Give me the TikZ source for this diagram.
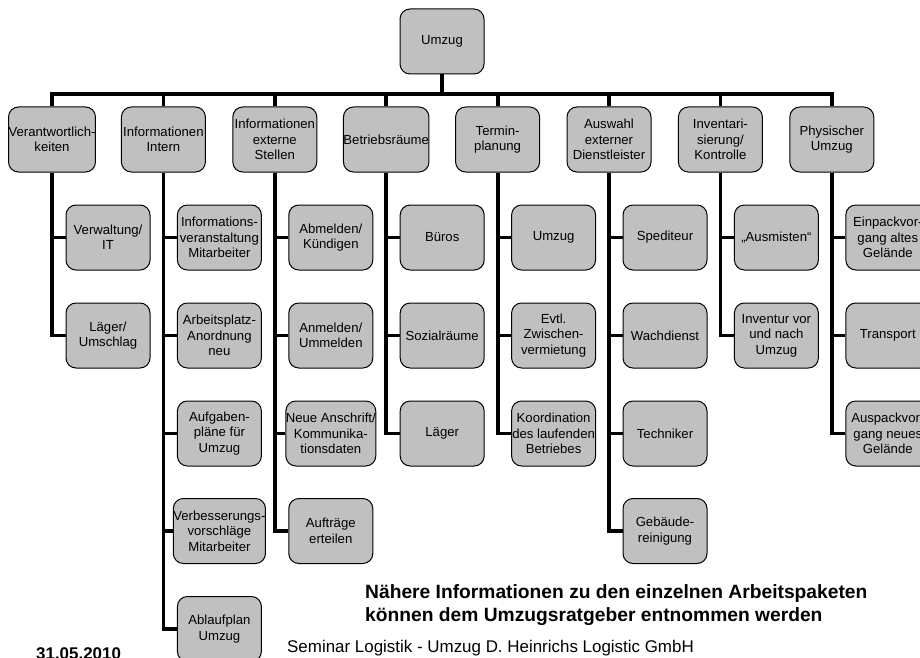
\documentclass[tikz,border=0pt]{standalone}
\usepackage{fontspec}
\setmainfont{Liberation Sans}
\usetikzlibrary{backgrounds}
\definecolor{boxgray}{HTML}{C0C0C0}
\tikzset{
  wbox/.style={draw=black, line width=1bp, fill=boxgray, rounded corners=10bp,
    minimum width=84bp, minimum height=65bp, inner sep=0pt, align=center,
    font=\fontsize{13.2}{15.5}\selectfont},
  conn/.style={draw=black, line width=3.8bp, line join=miter},
  notetext/.style={anchor=base west, inner sep=0pt, font=\fontsize{19.3}{23}\selectfont\bfseries},
  foottext/.style={anchor=base west, inner sep=0pt, font=\fontsize{17}{20}\selectfont},
}
\begin{document}
\begin{tikzpicture}[x=1bp,y=-1bp]
\useasboundingbox (0,0) rectangle (920,658);
% top
\node[wbox] (top) at (442,41.5) {Umzug};
\coordinate (bus) at (442,94);
% level 1
\node[wbox] (l1) at (52,139.5) {Verantwortlich-\\keiten};
\node[wbox] (l2) at (163.4,139.5) {Informationen\\Intern};
\node[wbox] (l3) at (274.8,139.5) {Informationen\\externe\\Stellen};
\node[wbox] (l4) at (386.2,139.5) {Betriebsräume};
\node[wbox] (l5) at (497.6,139.5) {Termin-\\planung};
\node[wbox] (l6) at (609,139.5) {Auswahl\\externer\\Dienstleister};
\node[wbox] (l7) at (720.4,139.5) {Inventari-\\sierung/\\Kontrolle};
\node[wbox] (l8) at (831.8,139.5) {Physischer\\Umzug};
% column 1
\node[wbox] (c1a) at (108,237.5) {Verwaltung/\\IT};
\node[wbox] (c1b) at (108,335.5) {Läger/\\Umschlag};
% column 2
\node[wbox] (c2a) at (219.4,237.5) {Informations-\\veranstaltung\\Mitarbeiter};
\node[wbox] (c2b) at (219.4,335.5) {Arbeitsplatz-\\Anordnung\\neu};
\node[wbox] (c2c) at (219.4,433.5) {Aufgaben-\\pläne für\\Umzug};
\node[wbox] (c2d) at (219.4,531) {Verbesserungs-\\vorschläge\\Mitarbeiter};
\node[wbox] (c2e) at (219.4,629) {Ablaufplan\\Umzug};
% column 3
\node[wbox] (c3a) at (330.8,237.5) {Abmelden/\\Kündigen};
\node[wbox] (c3b) at (330.8,335.5) {Anmelden/\\Ummelden};
\node[wbox] (c3c) at (330.8,433.5) {Neue Anschrift/\\Kommunika-\\tionsdaten};
\node[wbox] (c3d) at (330.8,531) {Aufträge\\erteilen};
% column 4
\node[wbox] (c4a) at (442.2,237.5) {Büros};
\node[wbox] (c4b) at (442.2,335.5) {Sozialräume};
\node[wbox] (c4c) at (442.2,433.5) {Läger};
% column 5
\node[wbox] (c5a) at (553.6,237.5) {Umzug};
\node[wbox] (c5b) at (553.6,335.5) {Evtl.\\Zwischen-\\vermietung};
\node[wbox] (c5c) at (553.6,433.5) {Koordination\\des laufenden\\Betriebes};
% column 6
\node[wbox] (c6a) at (665,237.5) {Spediteur};
\node[wbox] (c6b) at (665,335.5) {Wachdienst};
\node[wbox] (c6c) at (665,433.5) {Techniker};
\node[wbox] (c6d) at (665,531) {Gebäude-\\reinigung};
% column 7
\node[wbox] (c7a) at (776.4,237.5) {„Ausmisten“};
\node[wbox] (c7b) at (776.4,335.5) {Inventur vor\\und nach\\Umzug};
% column 8
\node[wbox] (c8a) at (887.8,237.5) {Einpackvor-\\gang altes\\Gelände};
\node[wbox] (c8b) at (887.8,335.5) {Transport};
\node[wbox] (c8c) at (887.8,433.5) {Auspackvor-\\gang neues\\Gelände};
% connectors
\begin{scope}[on background layer]
\draw[conn] (top.south) -- (bus);
\foreach \n in {l1,l2,l3,l4,l5,l6,l7,l8} { \draw[conn] (\n.north) |- (bus); }
\foreach \p/\c in {l1/c1a,l1/c1b,
  l2/c2a,l2/c2b,l2/c2c,l2/c2d,l2/c2e,
  l3/c3a,l3/c3b,l3/c3c,l3/c3d,
  l4/c4a,l4/c4b,l4/c4c,
  l5/c5a,l5/c5b,l5/c5c,
  l6/c6a,l6/c6b,l6/c6c,l6/c6d,
  l7/c7a,l7/c7b,
  l8/c8a,l8/c8b,l8/c8c} { \draw[conn] (\p.south) |- (\c.west); }
\end{scope}
% texts
\node[notetext] (note1) at (365,598) {Nähere Informationen zu den einzelnen Arbeitspaketen};
\node[notetext] (note2) at (365,621) {können dem Umzugsratgeber entnommen werden};
\node[foottext] (footer) at (287,652) {Seminar Logistik - Umzug D. Heinrichs Logistic GmbH};
\node[foottext, font=\fontsize{17}{20}\selectfont\bfseries] (date) at (36,659) {31.05.2010};
\end{tikzpicture}
\end{document}
